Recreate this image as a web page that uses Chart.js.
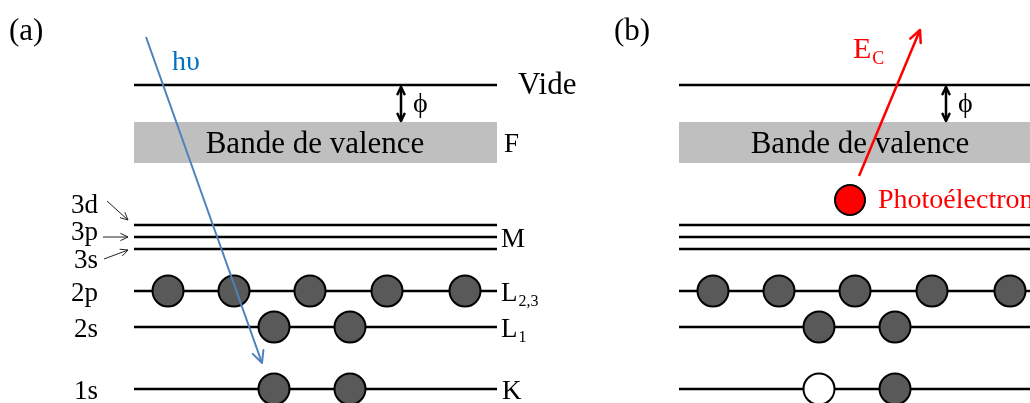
<!DOCTYPE html>
<html>
<head>
<meta charset="utf-8">
<script src="https://cdn.jsdelivr.net/npm/chart.js@4.4.1/dist/chart.umd.min.js"></script>
<style>
html, body { margin: 0; padding: 0; background: #fff; }
#wrap { width: 1030px; height: 403px; position: relative; }
</style>
</head>
<body>
<div id="wrap"><canvas id="myChart"></canvas></div>
<script>
// energy levels, in diagram units (0 at the top)
const levelNames = ['Vide', '3d', '3p', '3s', '2p', '2s', '1s'];
const levelY = [85, 225, 237, 249, 291, 327, 389];
const bandEdges = [122, 163];
const levelSpan = [134, 497];
const panelShift = 545;

// electrons sitting on each shell
const electrons2p = [168, 234, 310, 387, 465];
const electrons2s = [274, 350];
const electrons1s = [274, 350];
const holeIndex = 0; // the 1s electron that leaves in panel (b)

const photoelectron = [{ x: 850, y: 200 }];
const photonPath = [{ x: 146, y: 37 }, { x: 262, y: 363 }];
const emittedPath = [{ x: 859, y: 176 }, { x: 920, y: 30 }];
const workFunction = [{ x: 401, y: 87 }, { x: 401, y: 121 }];

const SERIF = '"Liberation Serif", serif';
const ELECTRON_GREY = '#595959';

function seg(x0, x1, y) {
    return [{ x: x0, y: y }, { x: x1, y: y }];
}

function shift(points, dx) {
    return points.map(p => ({ x: p.x + dx, y: p.y }));
}

const datasets = [];

// valence band, one per panel (top edge filled down to bottom edge)
[0, panelShift].forEach(dx => {
    datasets.push({
        data: seg(levelSpan[0] + dx, levelSpan[1] + dx, bandEdges[0]),
        showLine: true, pointRadius: 0, borderWidth: 0, borderColor: 'rgba(0,0,0,0)',
        fill: '+1', backgroundColor: '#bfbfbf', order: 5, band: true
    });
    datasets.push({
        data: seg(levelSpan[0] + dx, levelSpan[1] + dx, bandEdges[1]),
        showLine: true, pointRadius: 0, borderWidth: 0, borderColor: 'rgba(0,0,0,0)',
        fill: false, order: 5, band: true
    });
});

// level lines
[0, panelShift].forEach(dx => {
    levelY.forEach(y => {
        datasets.push({
            data: seg(levelSpan[0] + dx, levelSpan[1] + dx, y),
            showLine: true, pointRadius: 0, borderColor: '#000', borderWidth: 2.5,
            fill: false, order: 4
        });
    });
});

// electrons
function electronSet(xs, y, dx, fills) {
    return {
        data: xs.map(x => ({ x: x + dx, y: y })),
        pointRadius: 15.5, pointStyle: 'circle',
        pointBackgroundColor: fills, pointBorderColor: '#000', pointBorderWidth: 2,
        order: 3
    };
}
[0, panelShift].forEach(dx => {
    datasets.push(electronSet(electrons2p, levelY[4], dx, ELECTRON_GREY));
    datasets.push(electronSet(electrons2s, levelY[5], dx, ELECTRON_GREY));
});
datasets.push(electronSet(electrons1s, levelY[6], 0, ELECTRON_GREY));
datasets.push(electronSet(electrons1s, levelY[6], panelShift,
    electrons1s.map((x, i) => i === holeIndex ? '#ffffff' : ELECTRON_GREY)));

datasets.push({
    data: photoelectron,
    pointRadius: 15, pointBackgroundColor: '#ff0000', pointBorderColor: '#000', pointBorderWidth: 2,
    order: 3
});

// arrows
datasets.push({
    data: photonPath, showLine: true, pointRadius: 0, borderColor: '#4f81bd', borderWidth: 2,
    order: 1, arrow: 'end', head: 13
});
datasets.push({
    data: emittedPath, showLine: true, pointRadius: 0, borderColor: '#ff0000', borderWidth: 2.5,
    order: 1, arrow: 'end', head: 13
});
[0, panelShift].forEach(dx => {
    datasets.push({
        data: shift(workFunction, dx), showLine: true, pointRadius: 0, borderColor: '#000',
        borderWidth: 2.5, order: 1, arrow: 'both', head: 8
    });
});

function drawHead(ctx, from, to, size, color, width) {
    const a = Math.atan2(to.y - from.y, to.x - from.x);
    const spread = 0.45;
    ctx.save();
    ctx.strokeStyle = color;
    ctx.lineWidth = width;
    ctx.lineCap = 'round';
    ctx.lineJoin = 'round';
    ctx.beginPath();
    ctx.moveTo(to.x - size * Math.cos(a - spread), to.y - size * Math.sin(a - spread));
    ctx.lineTo(to.x, to.y);
    ctx.lineTo(to.x - size * Math.cos(a + spread), to.y - size * Math.sin(a + spread));
    ctx.stroke();
    ctx.restore();
}

const arrowHeads = {
    id: 'arrowHeads',
    afterDatasetDraw(chart, args) {
        const ds = chart.data.datasets[args.index];
        if (!ds.arrow) return;
        const pts = chart.getDatasetMeta(args.index).data;
        const p0 = { x: pts[0].x, y: pts[0].y };
        const p1 = { x: pts[1].x, y: pts[1].y };
        drawHead(chart.ctx, p0, p1, ds.head, ds.borderColor, ds.borderWidth);
        if (ds.arrow === 'both') {
            drawHead(chart.ctx, p1, p0, ds.head, ds.borderColor, ds.borderWidth);
        }
    }
};

function put(chart, s, x, y, size, color, align, sub) {
    const ctx = chart.ctx;
    const px = chart.scales.x.getPixelForValue(x);
    const py = chart.scales.y.getPixelForValue(y);
    ctx.save();
    ctx.fillStyle = color || '#000';
    ctx.textBaseline = 'alphabetic';
    ctx.font = size + 'px ' + SERIF;
    const w = ctx.measureText(s).width;
    let left = px;
    if (align === 'center') left = px - w / 2;
    if (align === 'right') left = px - w;
    ctx.fillText(s, left, py);
    if (sub) {
        ctx.font = Math.round(size * 0.6) + 'px ' + SERIF;
        ctx.fillText(sub, left + w + 1, py + size * 0.2);
    }
    ctx.restore();
}

function thinArrow(chart, x0, y0, x1, y1) {
    const xs = chart.scales.x, ys = chart.scales.y;
    const a = { x: xs.getPixelForValue(x0), y: ys.getPixelForValue(y0) };
    const b = { x: xs.getPixelForValue(x1), y: ys.getPixelForValue(y1) };
    const ctx = chart.ctx;
    ctx.save();
    ctx.strokeStyle = '#222';
    ctx.lineWidth = 1;
    ctx.beginPath();
    ctx.moveTo(a.x, a.y);
    ctx.lineTo(b.x, b.y);
    ctx.stroke();
    ctx.restore();
    drawHead(ctx, a, b, 8, '#222', 1);
}

const labels = {
    id: 'labels',
    afterDatasetDraw(chart, args) {
        if (args.index !== 0) return;
        put(chart, '(a)', 9, 40, 31);
        put(chart, '(b)', 614, 40, 31);
        put(chart, 'hυ', 172, 70, 28, '#0070c0');
        put(chart, 'E', 853, 58, 30, '#ff0000', 'left', 'C');
        [0, panelShift].forEach(dx => {
            put(chart, 'Bande de valence', 315 + dx, 153, 31, '#000', 'center');
            put(chart, 'ϕ', 413 + dx, 112, 28);
        });
        put(chart, 'Vide', 518, 94, 31);
        put(chart, 'F', 504, 152, 27);
        put(chart, 'M', 501, 247, 27);
        put(chart, 'L', 501, 301, 27, '#000', 'left', '2,3');
        put(chart, 'L', 501, 337, 27, '#000', 'left', '1');
        put(chart, 'K', 502, 399, 27);
        put(chart, 'Photoélectron', 878, 208, 28, '#ff0000');
        const leftY = [213, 240, 268, 301, 337, 399];
        ['3d', '3p', '3s', '2p', '2s', '1s'].forEach((s, i) => {
            put(chart, s, 98, leftY[i], 27, '#000', 'right');
        });
        thinArrow(chart, 107, 201, 128, 220);
        thinArrow(chart, 103, 237, 128, 237);
        thinArrow(chart, 104, 259, 128, 250);
    }
};

const ctx = document.getElementById('myChart').getContext('2d');
const myChart = new Chart(ctx, {
    type: 'scatter',
    data: { datasets: datasets.map(d => Object.assign({ clip: false }, d)) },
    options: {
        responsive: true,
        maintainAspectRatio: false,
        animation: false,
        events: [],
        layout: { padding: 0, autoPadding: false },
        plugins: { legend: { display: false }, tooltip: { enabled: false } },
        scales: {
            x: { type: 'linear', min: 0, max: 1030, display: false },
            y: { type: 'linear', min: 0, max: 403, reverse: true, display: false }
        }
    },
    plugins: [labels, arrowHeads]
});
</script>
</body>
</html>
